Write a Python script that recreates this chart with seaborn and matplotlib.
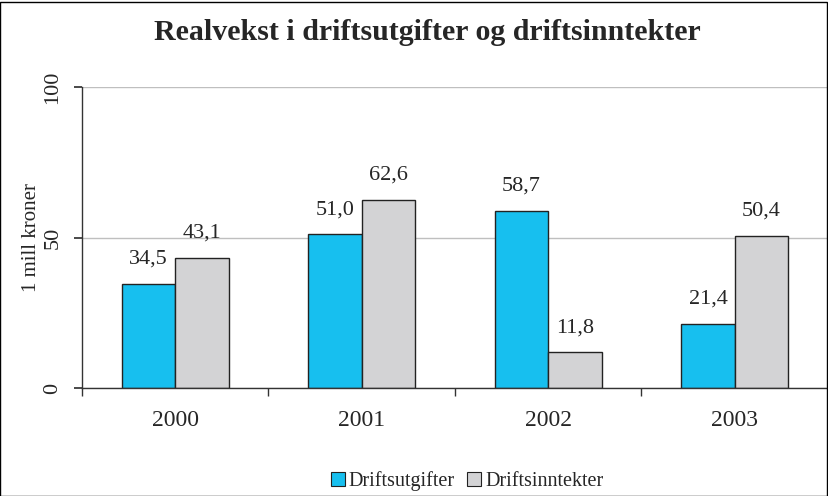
import matplotlib
matplotlib.use("Agg")
import matplotlib.pyplot as plt
import seaborn as sns
import pandas as pd
from matplotlib.patches import Rectangle

years = ["2000", "2001", "2002", "2003"]
driftsutgifter = [34.5, 51.0, 58.7, 21.4]
driftsinntekter = [43.1, 62.6, 11.8, 50.4]
series_names = ["Driftsutgifter", "Driftsinntekter"]

df = pd.DataFrame({
    "year": years * 2,
    "value": driftsutgifter + driftsinntekter,
    "series": [series_names[0]] * 4 + [series_names[1]] * 4,
})

sns.set_theme(style="white")
plt.rcParams["font.family"] = ["Liberation Serif", "DejaVu Serif"]

fig = plt.figure(figsize=(8.29, 4.96), dpi=100)
ax = fig.add_axes([82 / 829, 1 - 388 / 496, (828 - 82) / 829, (388 - 87) / 496])

colors = ["#17BFEF", "#D3D3D5"]
sns.barplot(data=df, x="year", y="value", hue="series", palette=colors,
            width=0.575, edgecolor="#222222", linewidth=1.0, ax=ax, legend=False,
            saturation=1)

ax.set_ylim(0, 100)
ax.set_xlim(-0.5, 3.5)
ax.set_yticks([0, 50, 100])
ax.set_yticklabels(["0", "50", "100"], rotation=90, va="center", fontsize=16)
ax.yaxis.grid(True, color="#bfbfbf", linewidth=1)
ax.set_axisbelow(True)
for s in ["top", "right"]:
    ax.spines[s].set_visible(False)
for s in ["left", "bottom"]:
    ax.spines[s].set_color("#333333")
    ax.spines[s].set_linewidth(1)
ax.tick_params(axis="y", left=True, length=6, color="#333333", pad=8)
ax.tick_params(axis="x", bottom=False, labelsize=17, pad=10)
# category separator ticks
ax.set_xticks([-0.5, 0.5, 1.5, 2.5], minor=True)
ax.tick_params(axis="x", which="minor", bottom=True, length=6, color="#333333")
ax.set_xlabel("")
ax.set_ylabel("1 mill kroner", fontsize=15, labelpad=2)

for cont in ax.containers:
    labels = [f"{v:.1f}".replace(".", ",") for v in cont.datavalues]
    ax.bar_label(cont, labels=labels, padding=11, fontsize=16)

fig.suptitle("Realvekst i driftsutgifter og driftsinntekter", fontsize=21.5,
             fontweight="bold", x=427 / 829, y=1 - 32 / 496, va="center")

handles = [Rectangle((0, 0), 1, 1, facecolor=c, edgecolor="#222222", linewidth=0.8)
           for c in colors]
fig.legend(handles, series_names, loc="center", bbox_to_anchor=(467 / 829, 1 - 481 / 496),
           ncol=2, frameon=False, fontsize=14.5, handlelength=0.7, handleheight=0.7,
           handletextpad=0.2, columnspacing=0.6)

fig.patches.append(Rectangle((0.5 / 829, 0.5 / 496), 1 - 2 / 829, 1 - 2 / 496,
                             transform=fig.transFigure, fill=False,
                             edgecolor="black", linewidth=1))

fig.savefig("out.png", dpi=100)
